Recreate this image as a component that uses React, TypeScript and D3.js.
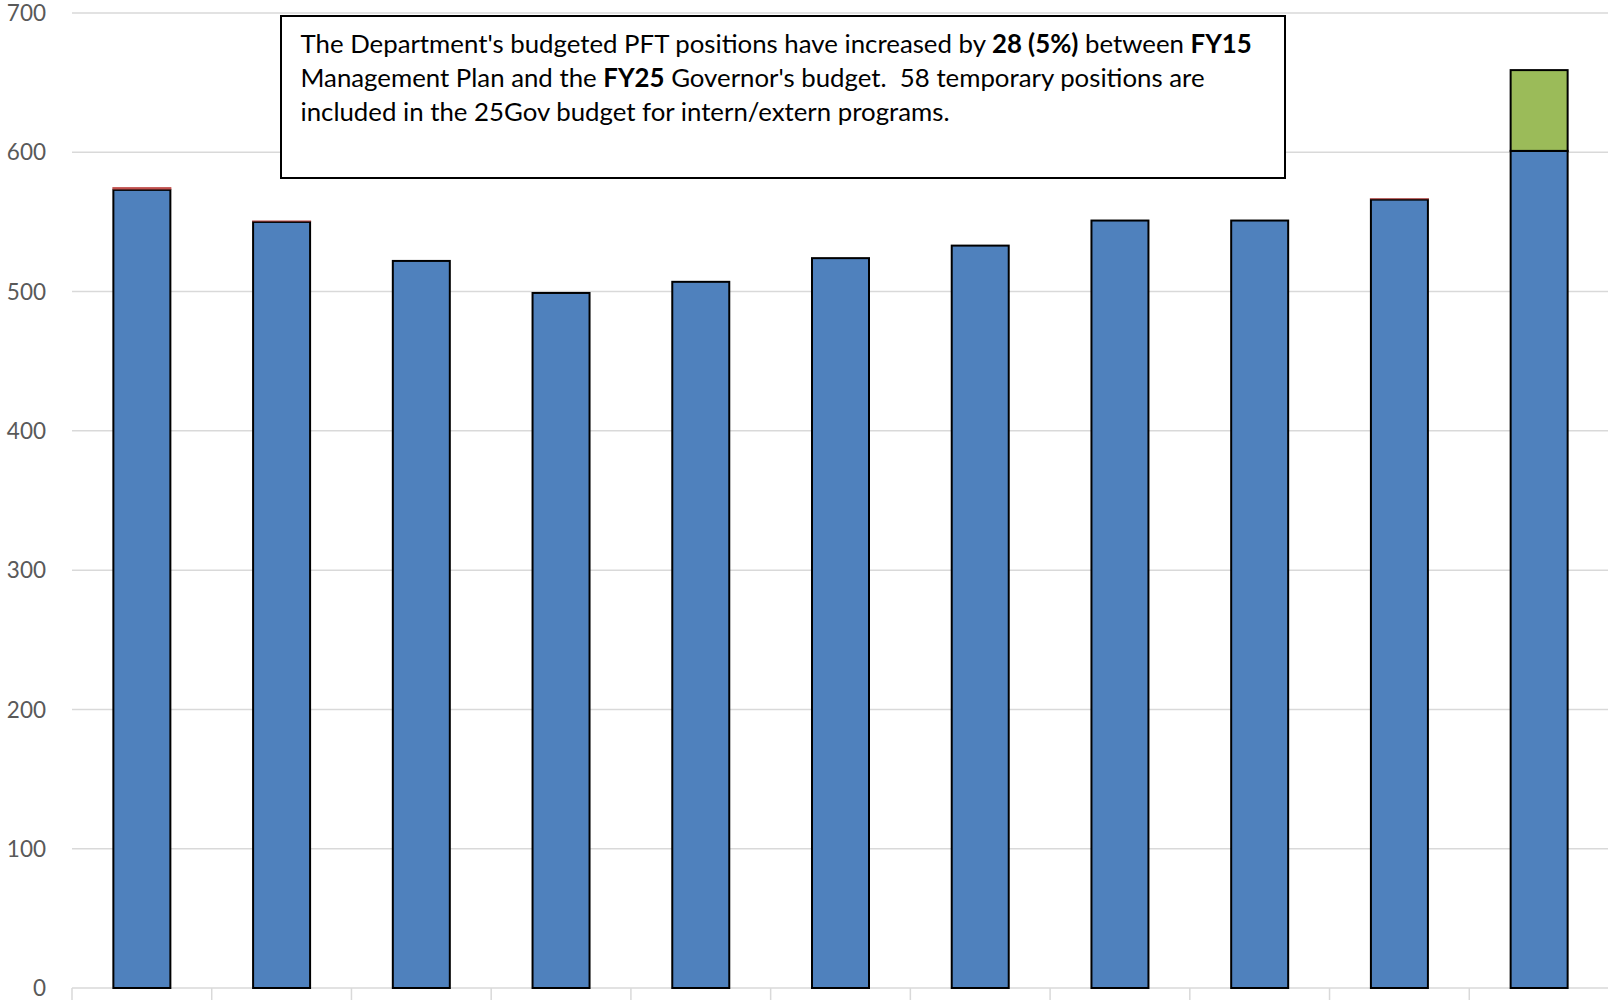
import React from "react";
import * as d3 from "d3";

// Fiscal years shown along the x axis
const categories = ["FY15", "FY16", "FY17", "FY18", "FY19", "FY20", "FY21", "FY22", "FY23", "FY24", "FY25"];
// Permanent full-time positions
const pftValues = [573, 550, 522, 499, 507, 524, 533, 551, 551, 566, 601];
// Permanent part-time positions
const pptValues = [2, 1, 0, 0, 0, 0, 0, 0, 0, 1, 0];
// Temporary positions
const tempValues = [0, 0, 0, 0, 0, 0, 0, 0, 0, 0, 58];
// Y axis ticks
const yTicks = [0, 100, 200, 300, 400, 500, 600, 700];

const W = 1608;
const H = 1000;
const FONT = "Lato, 'Open Sans', sans-serif";

const BLUE = "#4f81bd";
const RED = "#c0504d";
const GREEN = "#9bbb59";
const GRID = "#d9d9d9";

type Seg = { text: string; bold?: boolean };
const noteLines: Seg[][] = [
  [
    { text: "The Department's budgeted PFT positions have increased by " },
    { text: "28 (5%)", bold: true },
    { text: " between " },
    { text: "FY15", bold: true },
  ],
  [
    { text: "Management Plan and the " },
    { text: "FY25", bold: true },
    { text: " Governor's budget.  58 temporary positions are" },
  ],
  [{ text: "included in the 25Gov budget for intern/extern programs." }],
];

export default function App() {
  const x = d3.scaleBand<string>().domain(categories).range([72, 1609]).paddingInner(0).paddingOuter(0);
  const y = d3.scaleLinear().domain([0, 700]).range([988, 13]);
  const barW = 57;
  const bw = x.bandwidth();

  return (
    <svg
      width={W}
      height={H}
      style={{ position: "absolute", left: 0, top: 0, background: "#fff" }}
      fontFamily={FONT}
    >
      {/* gridlines */}
      {yTicks.map((t) => (
        <line key={"g" + t} x1={72} x2={W} y1={y(t)} y2={y(t)} stroke={GRID} strokeWidth={1.5} />
      ))}
      {/* category boundary ticks */}
      {categories.map((c) => (
        <line key={"t" + c} x1={x(c)!} x2={x(c)!} y1={y(0)} y2={H} stroke={GRID} strokeWidth={1.5} />
      ))}
      {/* y tick labels */}
      {yTicks.map((t) => (
        <text key={"l" + t} x={46} y={y(t)} dy="0.36em" textAnchor="end" fontSize={22.5} fill="#595959">
          {t}
        </text>
      ))}
      {/* bars */}
      {categories.map((c, i) => {
        const x0 = x(c)! + (bw - barW) / 2;
        const pft = pftValues[i];
        const ppt = pptValues[i];
        const tmp = tempValues[i];
        return (
          <g key={"b" + c}>
            <rect x={x0} y={y(pft)} width={barW} height={y(0) - y(pft)} fill={BLUE} stroke="#000" strokeWidth={2} />
            {ppt > 0 && (
              <rect x={x0 - 1} y={y(pft + ppt)} width={barW + 2} height={y(pft) - y(pft + ppt) - 0.4} fill={RED} />
            )}
            {tmp > 0 && (
              <rect
                x={x0}
                y={y(pft + ppt + tmp)}
                width={barW}
                height={y(pft + ppt) - y(pft + ppt + tmp)}
                fill={GREEN}
                stroke="#000"
                strokeWidth={2}
              />
            )}
          </g>
        );
      })}
      {/* note box */}
      <rect x={281} y={16} width={1004} height={162} fill="#fff" stroke="#000" strokeWidth={2} />
      {noteLines.map((line, li) => (
        <text key={"n" + li} x={300.5} y={53.3 + li * 33.7} fontSize={25.8} fill="#000" style={{ whiteSpace: "pre" }}>
          {line.map((s, si) => (
            <tspan key={si} fontWeight={s.bold ? 700 : 400}>
              {s.text}
            </tspan>
          ))}
        </text>
      ))}
    </svg>
  );
}
